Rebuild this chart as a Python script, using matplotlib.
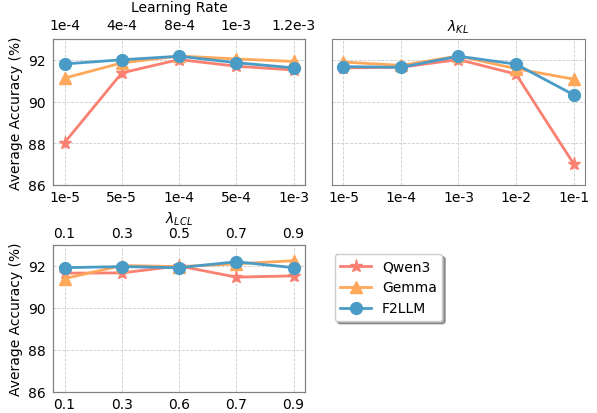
import matplotlib.pyplot as plt

# data
models = ["Qwen3", "Gemma", "F2LLM"]
colors = ["#FA8072", "#FFA75A", "#4A9CC6"]
markers = ["*", "^", "o"]
msizes = [9.5, 8.5, 8.5]

lr_bottom = ["1e-5", "5e-5", "1e-4", "5e-4", "1e-3"]
lr_top = ["1e-4", "4e-4", "8e-4", "1e-3", "1.2e-3"]
lr_qwen = [88.03, 91.38, 92.02, 91.7, 91.52]
lr_gemma = [91.13, 91.86, 92.19, 92.05, 91.93]
lr_f2llm = [91.81, 92.01, 92.18, 91.87, 91.62]

kl_ticks = ["1e-5", "1e-4", "1e-3", "1e-2", "1e-1"]
kl_qwen = [91.62, 91.65, 92.02, 91.32, 87.02]
kl_gemma = [91.9, 91.74, 92.19, 91.58, 91.08]
kl_f2llm = [91.68, 91.65, 92.18, 91.8, 90.33]

lcl_bottom = ["0.1", "0.3", "0.6", "0.7", "0.9"]
lcl_top = ["0.1", "0.3", "0.5", "0.7", "0.9"]
lcl_qwen = [91.64, 91.65, 91.98, 91.45, 91.51]
lcl_gemma = [91.38, 92.0, 91.95, 92.08, 92.23]
lcl_f2llm = [91.9, 91.95, 91.9, 92.18, 91.9]

fig = plt.figure(figsize=(5.97, 4.14), dpi=100)
ax1 = fig.add_axes([0.089, 0.551, 0.422, 0.352])
ax2 = fig.add_axes([0.556, 0.551, 0.424, 0.352])
ax3 = fig.add_axes([0.089, 0.051, 0.422, 0.356])

fs = 10


def draw(ax, series, labels):
    x = list(range(len(labels)))
    for vals, name, c, m, ms in zip(series, models, colors, markers, msizes):
        ax.plot(x, vals, color=c, marker=m, markersize=ms, linewidth=2,
                label=name)
    ax.set_xticks(x)
    ax.set_xticklabels(labels, fontsize=fs)
    ax.set_xlim(-0.2, 4.2)
    ax.set_ylim(86, 93)
    ax.set_yticks([86, 88, 90, 92])
    ax.tick_params(axis="both", labelsize=fs, length=0, pad=5)
    ax.tick_params(axis="x", pad=4)
    ax.grid(True, linestyle="--", color="#cccccc", linewidth=0.6)
    for s in ax.spines.values():
        s.set_color("#808080")


draw(ax1, [lr_qwen, lr_gemma, lr_f2llm], lr_bottom)
draw(ax2, [kl_qwen, kl_gemma, kl_f2llm], kl_ticks)
draw(ax3, [lcl_qwen, lcl_gemma, lcl_f2llm], lcl_bottom)

ax2.set_yticklabels([])
ax1.set_ylabel("Average Accuracy (%)", fontsize=fs)
ax3.set_ylabel("Average Accuracy (%)", fontsize=fs)

# top axis labels
for ax, top, title, tp, lp in [(ax1, lr_top, "Learning Rate", 5, 5),
                               (ax3, lcl_top, r"$\lambda_{LCL}$", 3, 3)]:
    top_ax = ax.twiny()
    top_ax.set_xlim(ax.get_xlim())
    top_ax.set_xticks(range(len(top)))
    top_ax.set_xticklabels(top, fontsize=fs)
    top_ax.tick_params(length=0, pad=tp)
    top_ax.set_xlabel(title, fontsize=fs, labelpad=lp)
    for s in top_ax.spines.values():
        s.set_color("#808080")

ax2.set_title(r"$\lambda_{KL}$", fontsize=fs)

handles, labels = ax1.get_legend_handles_labels()
fig.legend(handles, labels, loc="upper left", bbox_to_anchor=(0.549, 0.401),
           fontsize=fs, shadow=True, handlelength=2.2)

plt.savefig("out.png", dpi=100)
